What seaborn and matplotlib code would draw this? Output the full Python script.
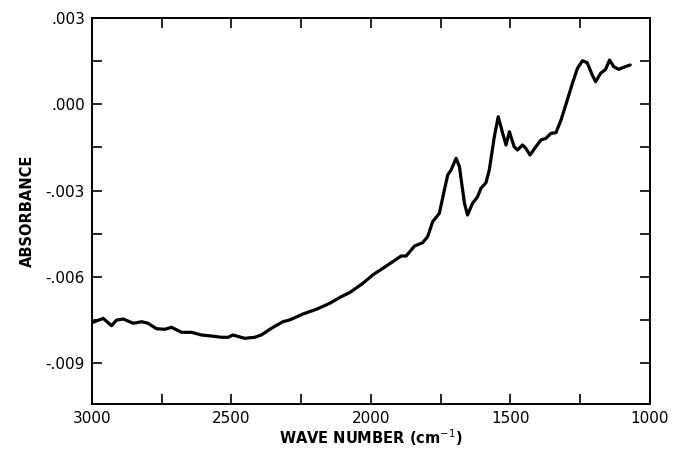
import numpy as np
import pandas as pd
import matplotlib
matplotlib.use("Agg")
import matplotlib.pyplot as plt
import seaborn as sns
from matplotlib.ticker import MultipleLocator, FuncFormatter

wavenumber = [3000, 2960, 2930, 2912, 2888, 2852, 2822, 2799, 2769, 2739, 2715, 2679,
              2643, 2608, 2572, 2536, 2512, 2495, 2453, 2417, 2393, 2357, 2316, 2292,
              2244, 2196, 2148, 2107, 2077, 2029, 1994, 1952, 1922, 1892, 1874, 1844,
              1815, 1797, 1779, 1755, 1737, 1725, 1713, 1695, 1683, 1665, 1654, 1636,
              1618, 1606, 1588, 1576, 1558, 1544, 1528, 1516, 1504, 1487, 1475, 1457,
              1445, 1430, 1409, 1391, 1373, 1355, 1337, 1319, 1302, 1278, 1260, 1242,
              1225, 1207, 1195, 1177, 1159, 1145, 1130, 1112, 1089, 1071]
absorbance = [-0.007598, -0.007445, -0.007702, -0.007504, -0.007469, -0.007618, -0.007563,
              -0.007618, -0.007806, -0.007827, -0.007758, -0.007932, -0.007932, -0.008025,
              -0.008060, -0.008105, -0.008105, -0.008025, -0.008140, -0.008105, -0.008025,
              -0.007792, -0.007563, -0.007504, -0.007295, -0.007132, -0.006923, -0.006693,
              -0.006554, -0.006227, -0.005938, -0.005671, -0.005476, -0.005278, -0.005278,
              -0.004930, -0.004815, -0.004606, -0.004085, -0.003792, -0.002982, -0.002460,
              -0.002287, -0.001880, -0.002172, -0.003445, -0.003852, -0.003445, -0.003215,
              -0.002923, -0.002728, -0.002287, -0.001128, -0.000433, -0.001010, -0.001417,
              -0.000955, -0.001476, -0.001591, -0.001417, -0.001532, -0.001765, -0.001476,
              -0.001243, -0.001184, -0.001010, -0.000989, -0.000548, -0.000026, 0.000729,
              0.001251, 0.001515, 0.001445, 0.001018, 0.000785, 0.001077, 0.001216,
              0.001539, 0.001306, 0.001216, 0.001306, 0.001365]

df = pd.DataFrame({"wn": wavenumber, "abs": absorbance})

sns.set_style("ticks")
plt.rcParams['font.family'] = ['DejaVu Sans']

fig = plt.figure(figsize=(6.73, 4.49), dpi=100)
ax = fig.add_axes([92/673, 1-404/449, (650-92)/673, (404-18)/449])

sns.lineplot(data=df, x="wn", y="abs", ax=ax, color="black", linewidth=2.3, sort=False)

ax.set_xlim(3000, 1000)
ax.set_ylim(-0.010425, 0.003)
ax.xaxis.set_major_locator(MultipleLocator(500))
ax.xaxis.set_minor_locator(MultipleLocator(250))
ax.yaxis.set_major_locator(MultipleLocator(0.003))
ax.yaxis.set_minor_locator(MultipleLocator(0.0015))

def yfmt(v, pos):
    s = "%.3f" % v
    if s.startswith("-0"):
        s = "-" + s[2:]
    elif s.startswith("0"):
        s = s[1:]
    return s

ax.yaxis.set_major_formatter(FuncFormatter(yfmt))
ax.xaxis.set_major_formatter(FuncFormatter(lambda v, p: "%d" % v))

ax.tick_params(which="both", direction="in", top=True, right=True, length=7,
               width=1.2, labelsize=11, colors="black", pad=5)
for sp in ax.spines.values():
    sp.set_linewidth(1.4)
    sp.set_color("black")

ax.set_xlabel("WAVE NUMBER (cm$^{-1}$)", fontsize=10.5, fontweight="bold",
              labelpad=1, color="black")
ax.set_ylabel("ABSORBANCE", fontsize=10.5, fontweight="bold", labelpad=8,
              color="black")

fig.savefig("out.png", dpi=100)
